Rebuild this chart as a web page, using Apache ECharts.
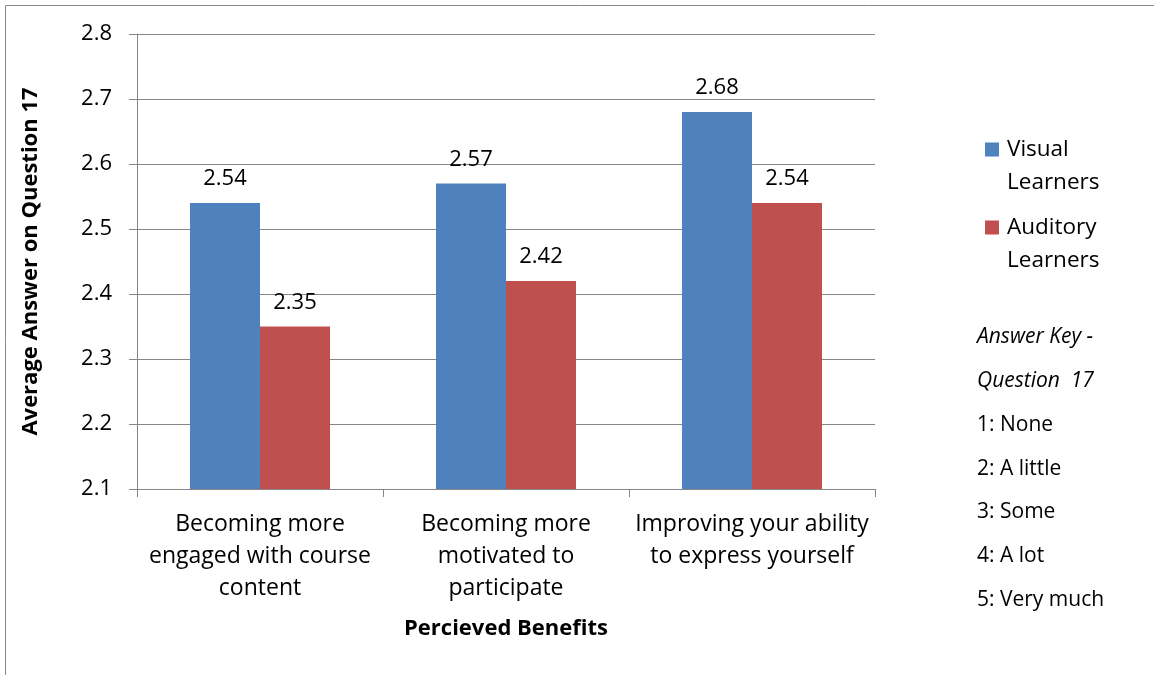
<!DOCTYPE html>
<html><head><meta charset="utf-8">
<script src="https://cdn.jsdelivr.net/npm/echarts@6/dist/echarts.min.js"></script>
<style>html,body{margin:0;padding:0;background:#fff}#c{width:1154px;height:675px}</style>
</head><body><div id="c"></div>
<script>
const categories = ["Becoming more\nengaged with course\ncontent", "Becoming more\nmotivated to\nparticipate", "Improving your ability\nto express yourself"];
const visual = [2.54, 2.57, 2.68];
const auditory = [2.35, 2.42, 2.54];
const seriesNames = ["Visual Learners", "Auditory Learners"];
const answerKey = ["Answer Key -", "Question  17", "1: None", "2: A little", "3: Some", "4: A lot", "5: Very much"];
const FONT = "Open Sans";
const chart = echarts.init(document.getElementById('c'), null, {renderer: 'canvas'});
const gray = '#868686';
const graphics = [{type: 'rect', shape: {x: 5.5, y: 5.5, width: 1300, height: 800}, style: {fill: 'none', stroke: '#888', lineWidth: 1}, silent: true}];
answerKey.forEach((t, i) => {
  graphics.push({type: 'text', left: 977, top: 327 + i * 43.7, style: {text: t, font: (i < 2 ? 'italic ' : '') + '21px "' + FONT + '"', fill: '#000'}});
});
chart.setOption({
  animation: false,
  textStyle: {fontFamily: FONT},
  grid: {left: 137, right: 279, top: 34, bottom: 186},
  legend: {
    orient: 'vertical', left: 980, top: 95, itemWidth: 14, itemHeight: 14, itemGap: -21,
    icon: 'rect',
    formatter: n => '\n' + n.replace(' ', '\n'),
    textStyle: {fontSize: 22.5, color: '#000', lineHeight: 33, fontFamily: FONT, padding: [0, 0, 0, 3]}
  },
  xAxis: {
    type: 'category', data: categories,
    axisLine: {lineStyle: {color: gray}},
    axisTick: {show: true, length: 8, lineStyle: {color: gray}},
    axisLabel: {fontSize: 23, color: '#000', lineHeight: 32, margin: 19, interval: 0},
    name: 'Percieved Benefits', nameLocation: 'middle', nameGap: 129,
    nameTextStyle: {fontSize: 22, fontWeight: 'bold', color: '#000'}
  },
  yAxis: {
    type: 'value', min: 2.1, max: 2.8, interval: 0.1,
    axisLine: {show: true, lineStyle: {color: gray}},
    axisTick: {show: true, length: 8, lineStyle: {color: gray}},
    splitLine: {lineStyle: {color: gray}},
    axisLabel: {fontSize: 22, color: '#000', margin: 25, formatter: v => v.toFixed(1)},
    name: 'Average Answer on Question 17', nameLocation: 'middle', nameGap: 95,
    nameTextStyle: {fontSize: 22, fontWeight: 'bold', color: '#000'}
  },
  series: [
    {name: seriesNames[0], type: 'bar', data: visual, barWidth: 70, barGap: '0%', itemStyle: {color: '#4F81BD'},
     label: {show: true, position: 'top', distance: 13, fontSize: 22, color: '#000', formatter: p => p.value.toFixed(2)}},
    {name: seriesNames[1], type: 'bar', data: auditory, barWidth: 70, barGap: '0%', itemStyle: {color: '#C0504D'},
     label: {show: true, position: 'top', distance: 13, fontSize: 22, color: '#000', formatter: p => p.value.toFixed(2)}}
  ],
  graphic: graphics
});
</script></body></html>
